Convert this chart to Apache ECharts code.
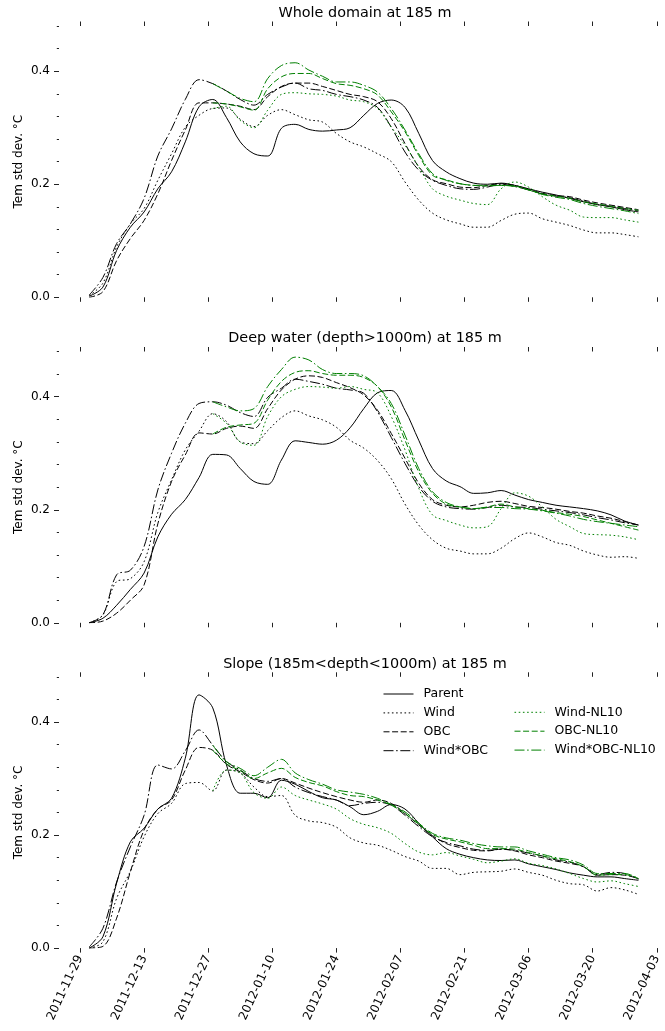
<!DOCTYPE html>
<html>
<head>
<meta charset="utf-8">
<title>Tem std dev at 185 m</title>
<script src="https://cdn.jsdelivr.net/npm/echarts@6/dist/echarts.min.js"></script>
<style>
  html, body { margin: 0; padding: 0; background: #fff; }
  #chart { width: 665px; height: 1031px; }
</style>
</head>
<body>
<div id="chart"></div>
<script>
// Sample dates (every third day)
const dates = [
  '2011-12-01', '2011-12-04', '2011-12-07', '2011-12-10', '2011-12-13', '2011-12-16', '2011-12-19',
  '2011-12-22', '2011-12-25', '2011-12-28', '2011-12-31', '2012-01-03', '2012-01-06', '2012-01-09',
  '2012-01-12', '2012-01-15', '2012-01-18', '2012-01-21', '2012-01-24', '2012-01-27', '2012-01-30',
  '2012-02-02', '2012-02-05', '2012-02-08', '2012-02-11', '2012-02-14', '2012-02-17', '2012-02-20',
  '2012-02-23', '2012-02-26', '2012-02-29', '2012-03-03', '2012-03-06', '2012-03-09', '2012-03-12',
  '2012-03-15', '2012-03-18', '2012-03-21', '2012-03-24', '2012-03-27', '2012-03-30'
];

// Date ticks, two weeks apart
const tickDates = [
  '2011-11-29', '2011-12-13', '2011-12-27', '2012-01-10', '2012-01-24',
  '2012-02-07', '2012-02-21', '2012-03-06', '2012-03-20', '2012-04-03'
];
const yMajorTicks = [0, 0.2, 0.4];
const yMinorTicks = [0.04, 0.08, 0.12, 0.16, 0.24, 0.28, 0.32, 0.36, 0.44, 0.48];

const seriesNames = ['Parent', 'Wind', 'OBC', 'Wind*OBC', 'Wind-NL10', 'OBC-NL10', 'Wind*OBC-NL10'];
const panelTitles = [
  'Whole domain at 185 m',
  'Deep water (depth>1000m) at 185 m',
  'Slope (185m<depth<1000m) at 185 m'
];
const yAxisName = 'Tem std dev. \u00B0C';

const _ = null;

// Whole domain
const wholeParent = [0.002, 0.018, 0.083, 0.124, 0.151, 0.192, 0.222, 0.275, 0.337, 0.350, 0.318, 0.275, 0.254, 0.250, 0.299, 0.306, 0.297, 0.294, 0.296, 0.300, 0.322, 0.343, 0.349, 0.336, 0.290, 0.242, 0.222, 0.210, 0.202, 0.200, 0.202, 0.198, 0.192, 0.186, 0.181, 0.175, 0.169, 0.164, 0.160, 0.155, 0.151];
const wholeWind = [0.003, 0.025, 0.089, 0.130, 0.157, 0.207, 0.254, 0.301, 0.322, 0.334, 0.335, 0.315, 0.302, 0.322, 0.332, 0.323, 0.314, 0.310, 0.290, 0.275, 0.266, 0.254, 0.240, 0.204, 0.172, 0.149, 0.137, 0.130, 0.124, 0.124, 0.136, 0.147, 0.149, 0.139, 0.133, 0.127, 0.119, 0.114, 0.114, 0.111, 0.107];
const wholeOBC = [0.000, 0.010, 0.065, 0.104, 0.136, 0.183, 0.242, 0.296, 0.344, 0.344, 0.342, 0.338, 0.332, 0.355, 0.373, 0.379, 0.379, 0.373, 0.366, 0.359, 0.355, 0.346, 0.316, 0.272, 0.231, 0.208, 0.201, 0.195, 0.194, 0.198, 0.201, 0.198, 0.191, 0.184, 0.180, 0.178, 0.172, 0.167, 0.163, 0.159, 0.155];
const wholeWindOBC = [0.004, 0.035, 0.095, 0.130, 0.175, 0.250, 0.298, 0.350, 0.385, 0.378, 0.365, 0.350, 0.340, 0.359, 0.372, 0.379, 0.369, 0.366, 0.359, 0.355, 0.349, 0.336, 0.301, 0.257, 0.225, 0.207, 0.198, 0.192, 0.191, 0.195, 0.200, 0.196, 0.190, 0.183, 0.179, 0.176, 0.170, 0.164, 0.161, 0.157, 0.153];
const wholeWindNL10 = [_, _, _, _, _, _, _, _, _, 0.334, 0.338, 0.313, 0.300, 0.331, 0.359, 0.362, 0.360, 0.359, 0.356, 0.349, 0.346, 0.334, 0.301, 0.269, 0.231, 0.192, 0.179, 0.172, 0.166, 0.164, 0.192, 0.204, 0.195, 0.178, 0.163, 0.154, 0.142, 0.141, 0.141, 0.137, 0.133];
const wholeOBCNL10 = [_, _, _, _, _, _, _, _, _, 0.344, 0.342, 0.337, 0.331, 0.369, 0.390, 0.396, 0.396, 0.387, 0.378, 0.375, 0.369, 0.358, 0.328, 0.293, 0.251, 0.216, 0.208, 0.201, 0.198, 0.197, 0.198, 0.197, 0.190, 0.183, 0.179, 0.175, 0.169, 0.165, 0.161, 0.157, 0.154];
const wholeWindOBCNL10 = [_, _, _, _, _, _, _, _, _, 0.378, 0.365, 0.352, 0.346, 0.387, 0.410, 0.415, 0.402, 0.391, 0.381, 0.381, 0.375, 0.363, 0.334, 0.296, 0.254, 0.219, 0.207, 0.201, 0.198, 0.198, 0.198, 0.196, 0.190, 0.182, 0.177, 0.173, 0.166, 0.161, 0.157, 0.153, 0.148];

// Deep water
const deepParent = [0.000, 0.008, 0.031, 0.059, 0.088, 0.152, 0.192, 0.218, 0.257, 0.298, 0.297, 0.273, 0.250, 0.245, 0.288, 0.322, 0.319, 0.316, 0.323, 0.345, 0.379, 0.407, 0.411, 0.376, 0.323, 0.273, 0.251, 0.241, 0.229, 0.230, 0.234, 0.226, 0.218, 0.213, 0.208, 0.205, 0.202, 0.198, 0.191, 0.180, 0.173];
const deepWind = [0.000, 0.014, 0.073, 0.078, 0.108, 0.195, 0.253, 0.306, 0.339, 0.370, 0.356, 0.320, 0.317, 0.340, 0.363, 0.375, 0.366, 0.359, 0.346, 0.323, 0.309, 0.287, 0.255, 0.210, 0.173, 0.147, 0.132, 0.127, 0.122, 0.122, 0.132, 0.149, 0.159, 0.152, 0.142, 0.137, 0.127, 0.120, 0.116, 0.117, 0.114];
const deepOBC = [0.000, 0.003, 0.017, 0.040, 0.067, 0.175, 0.250, 0.297, 0.336, 0.334, 0.344, 0.348, 0.344, 0.379, 0.412, 0.431, 0.437, 0.434, 0.425, 0.416, 0.403, 0.376, 0.335, 0.291, 0.247, 0.218, 0.208, 0.205, 0.208, 0.213, 0.215, 0.211, 0.206, 0.204, 0.201, 0.197, 0.194, 0.189, 0.185, 0.179, 0.173];
const deepWindOBC = [0.000, 0.014, 0.085, 0.093, 0.135, 0.235, 0.300, 0.353, 0.388, 0.391, 0.385, 0.372, 0.365, 0.399, 0.415, 0.431, 0.427, 0.422, 0.415, 0.412, 0.406, 0.373, 0.328, 0.282, 0.241, 0.215, 0.205, 0.202, 0.201, 0.204, 0.208, 0.205, 0.204, 0.201, 0.198, 0.195, 0.191, 0.186, 0.182, 0.177, 0.173];
const deepWindNL10 = [_, _, _, _, _, _, _, _, _, 0.370, 0.353, 0.320, 0.314, 0.365, 0.400, 0.413, 0.418, 0.417, 0.415, 0.418, 0.413, 0.407, 0.365, 0.306, 0.238, 0.191, 0.181, 0.173, 0.168, 0.170, 0.202, 0.230, 0.224, 0.205, 0.183, 0.170, 0.158, 0.156, 0.155, 0.152, 0.147];
const deepOBCNL10 = [_, _, _, _, _, _, _, _, _, 0.334, 0.346, 0.350, 0.353, 0.394, 0.427, 0.443, 0.446, 0.441, 0.438, 0.438, 0.434, 0.418, 0.382, 0.323, 0.267, 0.229, 0.210, 0.205, 0.202, 0.205, 0.210, 0.205, 0.202, 0.199, 0.195, 0.192, 0.188, 0.182, 0.176, 0.170, 0.164];
const deepWindOBCNL10 = [_, _, _, _, _, _, _, _, _, 0.391, 0.382, 0.375, 0.379, 0.418, 0.448, 0.470, 0.465, 0.448, 0.441, 0.441, 0.437, 0.418, 0.388, 0.332, 0.273, 0.232, 0.213, 0.205, 0.202, 0.204, 0.204, 0.202, 0.201, 0.198, 0.194, 0.189, 0.183, 0.179, 0.176, 0.173, 0.170];

// Slope
const slopeParent = [0.000, 0.020, 0.115, 0.188, 0.212, 0.246, 0.265, 0.336, 0.448, 0.425, 0.324, 0.274, 0.274, 0.266, 0.297, 0.290, 0.277, 0.266, 0.262, 0.250, 0.236, 0.242, 0.254, 0.246, 0.221, 0.197, 0.176, 0.166, 0.160, 0.156, 0.155, 0.156, 0.149, 0.144, 0.139, 0.133, 0.129, 0.126, 0.126, 0.123, 0.120];
const slopeWind = [0.000, 0.011, 0.088, 0.136, 0.197, 0.238, 0.256, 0.291, 0.293, 0.278, 0.315, 0.310, 0.285, 0.268, 0.270, 0.235, 0.225, 0.222, 0.214, 0.195, 0.186, 0.182, 0.173, 0.162, 0.154, 0.141, 0.141, 0.130, 0.134, 0.135, 0.136, 0.140, 0.134, 0.129, 0.120, 0.114, 0.112, 0.101, 0.107, 0.103, 0.095];
const slopeOBC = [0.000, 0.003, 0.053, 0.135, 0.209, 0.246, 0.262, 0.315, 0.355, 0.350, 0.325, 0.312, 0.298, 0.292, 0.300, 0.292, 0.283, 0.275, 0.268, 0.262, 0.258, 0.262, 0.256, 0.238, 0.218, 0.199, 0.185, 0.178, 0.173, 0.172, 0.175, 0.172, 0.165, 0.160, 0.154, 0.150, 0.144, 0.129, 0.130, 0.129, 0.123];
const slopeWindOBC = [0.002, 0.035, 0.117, 0.179, 0.235, 0.324, 0.317, 0.349, 0.386, 0.359, 0.330, 0.315, 0.300, 0.295, 0.300, 0.285, 0.275, 0.268, 0.262, 0.252, 0.256, 0.258, 0.253, 0.235, 0.215, 0.197, 0.187, 0.181, 0.175, 0.173, 0.175, 0.173, 0.168, 0.163, 0.156, 0.152, 0.144, 0.130, 0.134, 0.132, 0.122];
const slopeWindNL10 = [_, _, _, _, _, _, _, _, _, 0.278, 0.315, 0.310, 0.275, 0.265, 0.285, 0.270, 0.262, 0.255, 0.246, 0.229, 0.219, 0.213, 0.203, 0.185, 0.170, 0.165, 0.169, 0.163, 0.157, 0.151, 0.154, 0.158, 0.150, 0.146, 0.140, 0.132, 0.123, 0.117, 0.119, 0.114, 0.109];
const slopeOBCNL10 = [_, _, _, _, _, _, _, _, _, 0.350, 0.326, 0.314, 0.300, 0.310, 0.318, 0.302, 0.293, 0.287, 0.277, 0.270, 0.268, 0.262, 0.253, 0.238, 0.219, 0.201, 0.193, 0.188, 0.182, 0.176, 0.176, 0.175, 0.169, 0.163, 0.158, 0.153, 0.144, 0.129, 0.130, 0.130, 0.123];
const slopeWindOBCNL10 = [_, _, _, _, _, _, _, _, _, 0.359, 0.330, 0.318, 0.305, 0.320, 0.334, 0.310, 0.298, 0.290, 0.280, 0.276, 0.272, 0.265, 0.254, 0.241, 0.221, 0.203, 0.195, 0.191, 0.185, 0.181, 0.179, 0.179, 0.172, 0.166, 0.160, 0.156, 0.147, 0.132, 0.132, 0.132, 0.123];

const panelValues = [
  [wholeParent, wholeWind, wholeOBC, wholeWindOBC, wholeWindNL10, wholeOBCNL10, wholeWindOBCNL10],
  [deepParent, deepWind, deepOBC, deepWindOBC, deepWindNL10, deepOBCNL10, deepWindOBCNL10],
  [slopeParent, slopeWind, slopeOBC, slopeWindOBC, slopeWindNL10, slopeOBCNL10, slopeWindOBCNL10]
];

// ---- helpers ----
const DAY = 86400000;
function toTime(s) {
  const p = s.split('-').map(Number);
  return Date.UTC(p[0], p[1] - 1, p[2]);
}
function pad2(n) { return (n < 10 ? '0' : '') + n; }
function fmtDate(v) {
  const d = new Date(v);
  return d.getUTCFullYear() + '-' + pad2(d.getUTCMonth() + 1) + '-' + pad2(d.getUTCDate());
}

const FONT = 'DejaVu Sans';
const BLACK = '#000000';
const GREEN = '#008000';
const TICK_COLOR = '#222222';
const LINE_WIDTH = 1.0;

// solid, dotted, dashed, dash-dot
const DASHES = ['solid', [1.6, 2.6], [6, 2.6], [10, 2.6, 1.6, 2.6]];
const lineStyles = [
  { color: BLACK, type: DASHES[0] },
  { color: BLACK, type: DASHES[1] },
  { color: BLACK, type: DASHES[2] },
  { color: BLACK, type: DASHES[3] },
  { color: GREEN, type: DASHES[1] },
  { color: GREEN, type: DASHES[2] },
  { color: GREEN, type: DASHES[3] }
];

const tickTimes = tickDates.map(toTime);
const t0 = tickTimes[0];
const xMin = t0 - 4.59 * DAY;
const xMax = t0 + 127.8 * DAY;

const gridTops = [26, 351.5, 676.8];
const gridHeight = 271.3;
const titleTops = [6, 331.5, 657];

const grids = [], xAxes = [], yAxes = [], titles = [], series = [];

gridTops.forEach(function (top, g) {
  grids.push({ left: 59, right: 0, top: top, height: gridHeight, containLabel: false, outerBoundsMode: 'none' });

  titles.push({
    text: panelTitles[g],
    left: 365,
    top: titleTops[g],
    textAlign: 'center',
    padding: 0,
    textStyle: { fontFamily: FONT, fontSize: 14.4, fontWeight: 'normal', color: '#000' }
  });

  ['bottom', 'top'].forEach(function (pos) {
    const showLabels = (g === 2 && pos === 'bottom');
    xAxes.push({
      type: 'value',
      gridIndex: g,
      position: pos,
      min: xMin,
      max: xMax,
      axisLine: { show: false, onZero: false },
      splitLine: { show: false },
      axisTick: { show: true, customValues: tickTimes, length: 4.5, lineStyle: { color: TICK_COLOR, width: 1 } },
      axisLabel: {
        show: showLabels,
        customValues: tickTimes,
        rotate: 65,
        margin: 8,
        fontFamily: FONT,
        fontSize: 12,
        color: '#000',
        formatter: fmtDate
      }
    });
  });

  // major ticks with labels and the axis name
  yAxes.push({
    type: 'value',
    gridIndex: g,
    position: 'left',
    min: 0,
    max: 0.48,
    axisLine: { show: false, onZero: false },
    splitLine: { show: false },
    axisTick: { show: true, customValues: yMajorTicks, length: 5, lineStyle: { color: TICK_COLOR, width: 1 } },
    axisLabel: {
      customValues: yMajorTicks,
      margin: 9,
      fontFamily: FONT,
      fontSize: 12,
      color: '#000',
      formatter: function (v) { return v.toFixed(1); }
    },
    name: yAxisName,
    nameLocation: 'middle',
    nameRotate: 90,
    nameGap: 34,
    nameMoveOverlap: false,
    nameTextStyle: { fontFamily: FONT, fontSize: 12, color: '#000' }
  });
  // minor ticks
  yAxes.push({
    type: 'value',
    gridIndex: g,
    position: 'left',
    min: 0,
    max: 0.48,
    axisLine: { show: false, onZero: false },
    splitLine: { show: false },
    axisTick: { show: true, customValues: yMinorTicks, length: 2.2, lineStyle: { color: TICK_COLOR, width: 1 } },
    axisLabel: { show: false }
  });

  panelValues[g].forEach(function (vals, k) {
    series.push({
      type: 'line',
      name: seriesNames[k],
      xAxisIndex: g * 2,
      yAxisIndex: g * 2,
      data: dates.map(function (d, i) { return [toTime(d), vals[i]]; }),
      symbol: 'none',
      showSymbol: false,
      smooth: 0.35,
      connectNulls: false,
      clip: true,
      animation: false,
      lineStyle: { color: lineStyles[k].color, type: lineStyles[k].type, width: LINE_WIDTH },
      itemStyle: { color: lineStyles[k].color },
      emphasis: { disabled: true }
    });
  });
});

const legendCommon = {
  orient: 'vertical',
  padding: 0,
  itemWidth: 30,
  itemHeight: 14,
  itemGap: 5.9,
  selectedMode: false,
  itemStyle: { opacity: 0 },
  lineStyle: { width: LINE_WIDTH },
  textStyle: { fontFamily: FONT, fontSize: 12.5, color: '#000', padding: [0, 0, 0, 5] }
};

const option = {
  backgroundColor: '#ffffff',
  animation: false,
  title: titles,
  grid: grids,
  xAxis: xAxes,
  yAxis: yAxes,
  legend: [
    Object.assign({}, legendCommon, { data: seriesNames.slice(0, 4), left: 383, top: 687.5 }),
    Object.assign({}, legendCommon, { data: seriesNames.slice(4), left: 514, top: 705.8 })
  ],
  series: series
};

const chart = echarts.init(document.getElementById('chart'), null, { renderer: 'canvas' });
chart.setOption(option);
</script>
</body>
</html>
